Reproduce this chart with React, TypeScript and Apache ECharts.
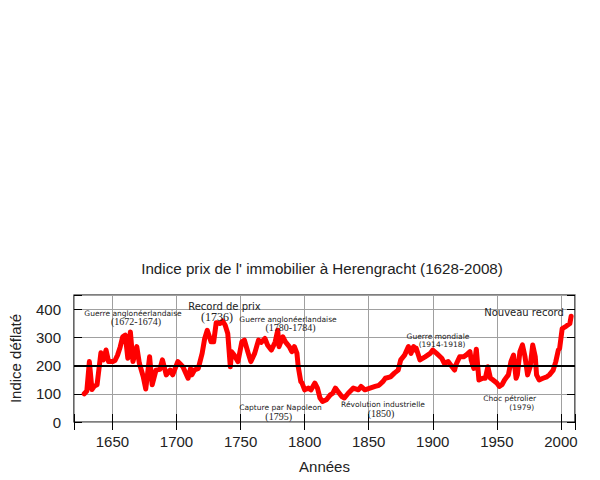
import React, { useEffect, useRef } from "react";
import * as echarts from "echarts";

// Herengracht real-estate index (deflated), [year, value]
const data1600s: [number, number][] = [
  [1628, 100], [1630, 110], [1632, 214], [1634, 115], [1636, 128], [1638, 132],
  [1641, 245], [1643, 220], [1645, 255], [1647, 214], [1650, 214], [1652, 218],
  [1654, 237], [1656, 265], [1658, 302], [1660, 308], [1662, 226], [1664, 319],
  [1666, 214], [1669, 267], [1671, 208], [1674, 161], [1676, 117], [1679, 231],
  [1681, 132], [1684, 184], [1687, 187], [1689, 220], [1692, 167], [1695, 184],
  [1697, 167],
];
const data1700s: [number, number][] = [
  [1701, 214], [1703, 205], [1705, 196], [1707, 175], [1709, 155], [1711, 190],
  [1712, 167], [1714, 184], [1717, 190], [1720, 243], [1722, 296], [1724, 325],
  [1727, 284], [1729, 284], [1731, 352], [1734, 349], [1736, 358], [1738, 343],
  [1740, 314], [1742, 196], [1743, 249], [1745, 237], [1748, 214], [1751, 284],
  [1753, 290], [1756, 243], [1758, 214], [1761, 243], [1764, 290], [1766, 282],
  [1769, 296], [1771, 273], [1774, 255], [1776, 273], [1777, 284], [1779, 325],
  [1780, 267], [1783, 302], [1785, 284], [1788, 267], [1790, 249], [1792, 267],
  [1794, 243], [1795, 196], [1797, 143], [1798, 138],
];
const data1800s: [number, number][] = [
  [1800, 114], [1803, 120], [1805, 114], [1808, 138], [1810, 120], [1812, 85],
  [1814, 73], [1817, 79], [1820, 96], [1822, 102], [1824, 120], [1826, 108],
  [1829, 90], [1831, 85], [1834, 102], [1838, 120], [1842, 114], [1844, 126],
  [1847, 114], [1851, 120], [1855, 126], [1858, 130], [1861, 143], [1863, 155],
  [1867, 160], [1870, 173], [1873, 184], [1875, 220], [1878, 237], [1881, 267],
  [1883, 243], [1885, 267], [1886, 255], [1887, 262], [1890, 220], [1894, 231],
  [1898, 243],
];
const data1900s: [number, number][] = [
  [1900, 255], [1903, 243], [1907, 226], [1909, 208], [1912, 214], [1914, 202],
  [1917, 184], [1918, 202], [1921, 231], [1924, 231], [1926, 237], [1929, 249],
  [1930, 220], [1932, 190], [1934, 258], [1936, 149], [1939, 155], [1941, 155],
  [1943, 196], [1945, 155], [1947, 149], [1950, 138], [1952, 126], [1954, 132],
  [1956, 149], [1959, 167], [1961, 214], [1963, 237], [1965, 155], [1966, 167],
  [1968, 249], [1970, 273], [1972, 231], [1974, 167], [1976, 196], [1978, 273],
  [1980, 231], [1981, 167], [1983, 149], [1986, 155], [1989, 160], [1991, 167],
  [1994, 184], [1996, 214], [1998, 255], [1999, 261],
];
const data2000s: [number, number][] = [
  [2001, 331], [2004, 339], [2007, 349], [2008, 375],
];

const xTickLabels = [1650, 1700, 1750, 1800, 1850, 1900, 1950, 2000];
const yTickLabels = [0, 100, 200, 300, 400];
const referenceLevel = 200;

const titleText = "Indice prix de l' immobilier à Herengracht (1628-2008)";
const xName = "Années";
const yName = "Indice déflaté";

const SANS = "'Liberation Sans', Arial, sans-serif";
const DSANS = "'DejaVu Sans', sans-serif";
const SERIF = "'Liberation Serif', 'Times New Roman', serif";

type Note = { text: string; x: number; y: number; size: number; font: string };
const notes: Note[] = [
  { text: "Guerre anglonéerlandaise", x: 133, y: 313, size: 7.5, font: DSANS },
  { text: "(1672-1674)", x: 136, y: 321.5, size: 10, font: SERIF },
  { text: "Record de prix", x: 224.5, y: 306, size: 10, font: DSANS },
  { text: "(1736)", x: 217, y: 317, size: 12, font: SERIF },
  { text: "Guerre anglonéerlandaise", x: 288, y: 319, size: 7.5, font: DSANS },
  { text: "(1780-1784)", x: 290.5, y: 327.5, size: 10, font: SERIF },
  { text: "Capture par Napoleon", x: 280.5, y: 407.5, size: 7.5, font: DSANS },
  { text: "(1795)", x: 278.7, y: 416, size: 10, font: SERIF },
  { text: "Révolution industrielle", x: 383, y: 404, size: 7.5, font: DSANS },
  { text: "(1850)", x: 381, y: 413, size: 10, font: SERIF },
  { text: "Guerre mondiale", x: 438, y: 336, size: 7.5, font: DSANS },
  { text: "(1914-1918)", x: 442, y: 344, size: 7.5, font: DSANS },
  { text: "Nouveau record", x: 524, y: 312.5, size: 10, font: DSANS },
  { text: "Choc pétrolier", x: 509.7, y: 398.5, size: 7.5, font: DSANS },
  { text: "(1979)", x: 521.7, y: 407.5, size: 7.5, font: DSANS },
];

export default function App() {
  const ref = useRef<HTMLDivElement>(null);
  useEffect(() => {
    if (!ref.current) return;
    const chart = echarts.init(ref.current, undefined, { renderer: "svg" });
    const seriesData = [...data1600s, ...data1700s, ...data1800s, ...data1900s, ...data2000s];
    const gridLine = { show: true, lineStyle: { color: "#a0a0a0", width: 1 } };
    const tick = { show: true, inside: true, length: 8, lineStyle: { color: "#000", width: 1 } };
    const xFmt = (v: number) => (xTickLabels.includes(v) ? String(v) : "");
    const yFmt = (v: number) => (yTickLabels.includes(v) ? String(v) : "");
    chart.setOption({
      animation: false,
      grid: {
        left: 72, right: 25, top: 295, bottom: 58,
        show: true, borderColor: "#000", borderWidth: 1.2, backgroundColor: "transparent",
      },
      xAxis: [
        {
          type: "value", min: 1620, max: 2011, splitNumber: 8, position: "bottom",
          name: xName, nameLocation: "middle", nameGap: 37,
          nameTextStyle: { fontFamily: SANS, fontSize: 15, color: "#222" },
          axisLine: { show: false },
          axisTick: tick,
          splitLine: gridLine,
          axisLabel: { formatter: xFmt, fontFamily: SANS, fontSize: 15, color: "#222", margin: 12 },
        },
        {
          type: "value", min: 1620, max: 2011, splitNumber: 8, position: "top",
          axisLine: { show: false }, axisTick: tick, splitLine: { show: false },
          axisLabel: { show: false },
        },
      ],
      yAxis: [
        {
          type: "value", min: 0, max: 450, interval: 100, position: "left",
          name: yName, nameLocation: "middle", nameGap: 51,
          nameTextStyle: { fontFamily: SANS, fontSize: 15, color: "#222" },
          axisLine: { show: false },
          axisTick: tick,
          splitLine: gridLine,
          axisLabel: { formatter: yFmt, fontFamily: SANS, fontSize: 15, color: "#222", margin: 13 },
        },
        {
          type: "value", min: 0, max: 450, interval: 100, position: "right",
          axisLine: { show: false }, axisTick: tick, splitLine: { show: false },
          axisLabel: { show: false },
        },
      ],
      series: [
        {
          type: "line", data: [], z: 1, silent: true,
          markLine: {
            symbol: "none", silent: true, label: { show: false },
            lineStyle: { color: "#000", width: 2, type: "solid" },
            data: [{ yAxis: referenceLevel }],
          },
        },
        {
          type: "line", data: seriesData, z: 3, showSymbol: false, symbol: "none",
          lineStyle: { color: "#ff0000", width: 5, join: "round", cap: "round" },
          itemStyle: { color: "#ff0000" },
        },
      ],
      graphic: [
        {
          type: "text", x: 322, y: 268,
          style: {
            text: titleText, fontFamily: SANS, fontSize: 15.2, fill: "#222",
            textAlign: "center", textVerticalAlign: "middle",
          },
        },
        ...notes.map((n) => ({
          type: "text", x: n.x, y: n.y, z: 10,
          style: {
            text: n.text, fontFamily: n.font, fontSize: n.size, fill: "#222",
            textAlign: "center", textVerticalAlign: "middle",
          },
        })),
      ],
    });
    return () => chart.dispose();
  }, []);
  return (
    <div
      ref={ref}
      style={{ position: "fixed", left: 0, top: 0, width: 600, height: 480, background: "#fff" }}
    />
  );
}
